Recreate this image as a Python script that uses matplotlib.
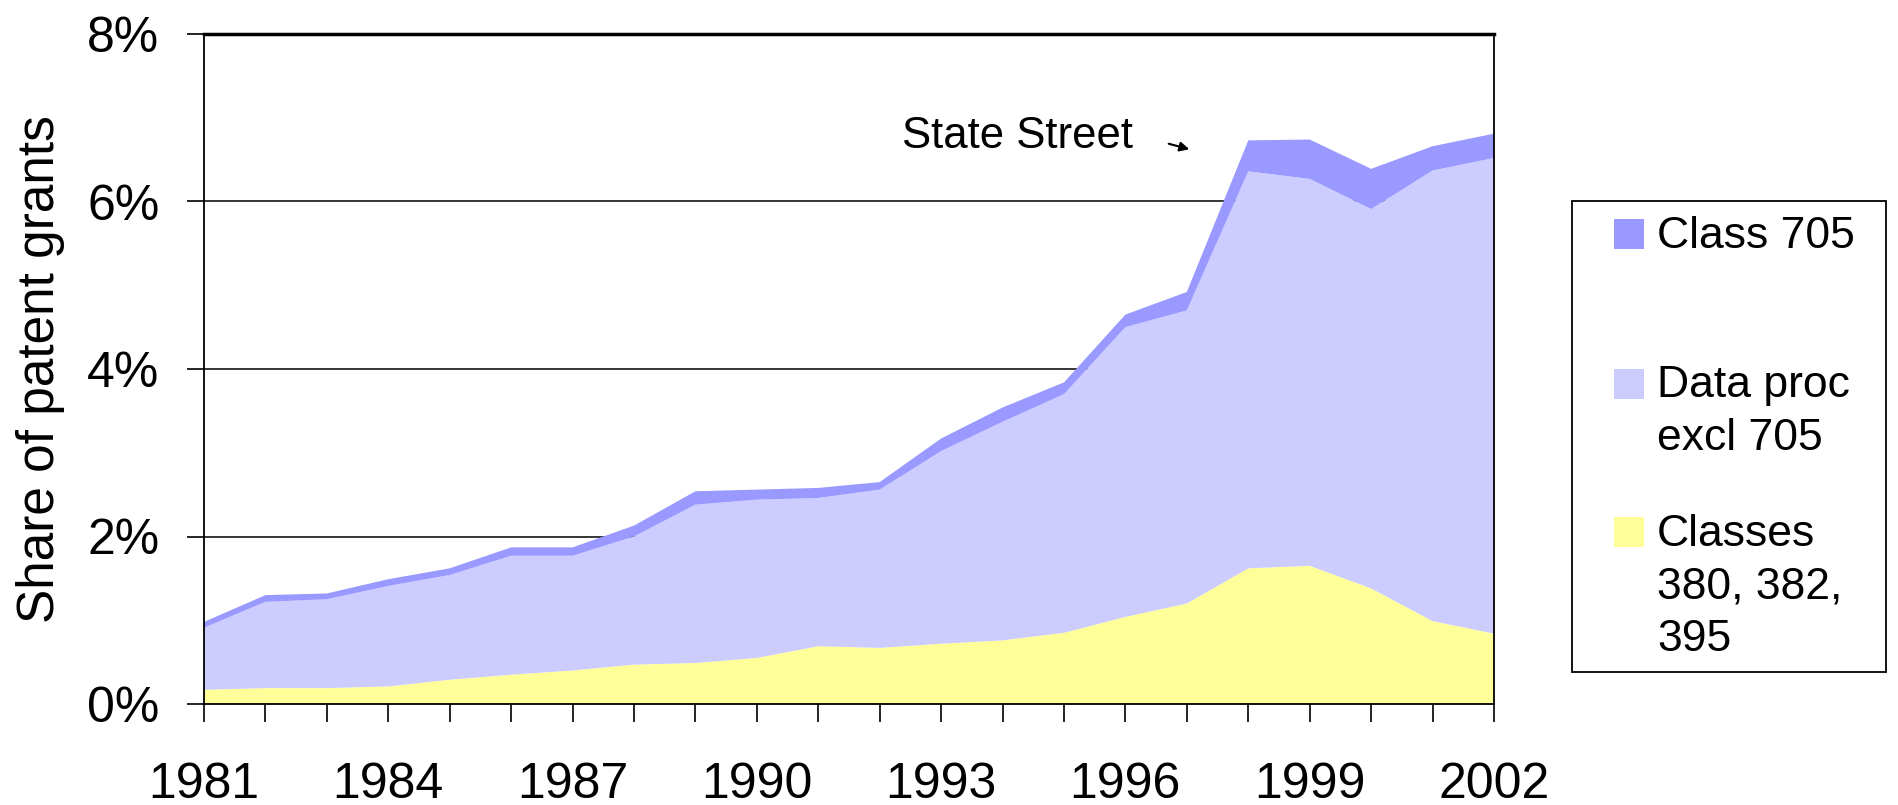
import matplotlib
matplotlib.use("Agg")
import matplotlib.pyplot as plt
from matplotlib.patches import Rectangle
import numpy as np

plt.rcParams['font.family'] = ['Liberation Sans', 'DejaVu Sans']

years = list(range(1981, 2003))
classes_380_382_395 = [0.17, 0.19, 0.19, 0.21, 0.29, 0.35, 0.40, 0.47, 0.49, 0.55, 0.69,
                       0.67, 0.72, 0.76, 0.85, 1.04, 1.20, 1.62, 1.65, 1.38, 0.99, 0.84]
data_proc_total = [0.91, 1.22, 1.25, 1.41, 1.54, 1.77, 1.77, 2.00, 2.38, 2.44, 2.46,
                   2.56, 3.02, 3.37, 3.70, 4.50, 4.70, 6.36, 6.27, 5.91, 6.37, 6.52]
grand_total = [0.98, 1.30, 1.32, 1.49, 1.62, 1.87, 1.87, 2.13, 2.54, 2.56, 2.58,
               2.65, 3.17, 3.54, 3.84, 4.65, 4.92, 6.73, 6.74, 6.39, 6.66, 6.81]
data_proc_excl_705 = [d - c for d, c in zip(data_proc_total, classes_380_382_395)]
class_705 = [g - d for g, d in zip(grand_total, data_proc_total)]

labels = ["Classes\n380, 382,\n395", "Data proc\nexcl 705", "Class 705"]
colors = ["#FFFF99", "#CCCCFF", "#9999FF"]
ytick_vals = [0, 2, 4, 6, 8]
xtick_years = [1981, 1984, 1987, 1990, 1993, 1996, 1999, 2002]

fig = plt.figure(figsize=(18.98, 8.05), dpi=100)
ax = fig.add_axes([204/1898, 1-704/805, (1494-204)/1898, (704-34)/805])

ax.stackplot(years, classes_380_382_395, data_proc_excl_705, class_705,
             colors=colors, linewidth=0, zorder=2)

ax.set_xlim(1981, 2002)
ax.set_ylim(0, 8)
ax.set_yticks(ytick_vals)
ax.set_yticklabels([f"{v}%" for v in ytick_vals])
ax.set_xticks(years)
ax.set_xticklabels([str(y) if y in xtick_years else "" for y in years])
ax.tick_params(axis='both', labelsize=36, width=1.2, color='black', direction='out')
ax.tick_params(axis='x', length=13, pad=29)
ax.tick_params(axis='y', length=12.2, pad=20)
ax.set_ylabel("Share of patent grants", fontsize=37, labelpad=16)

for y in [2, 4, 6]:
    ax.axhline(y, color='black', linewidth=1.1, zorder=1)

for s in ['left', 'right', 'bottom']:
    ax.spines[s].set_linewidth(1.3)
    ax.spines[s].set_color('black')
ax.spines['top'].set_linewidth(2.5)
ax.spines['top'].set_color('black')

# annotation
fig.text(902/1898, 1-137/805, "State Street", fontsize=31.5, va='center', ha='left')
ax.annotate("", xy=(1192/1898, 1-150/805), xytext=(1166/1898, 1-143/805),
            xycoords='figure fraction', textcoords='figure fraction',
            arrowprops=dict(arrowstyle='-|>', color='black', lw=1.5, mutation_scale=14))

# legend drawn manually
fig.patches.append(Rectangle((1572/1898, 1-672/805), (1886-1572)/1898, (672-201)/805,
                             transform=fig.transFigure, facecolor='white',
                             edgecolor='black', linewidth=1.3))
leg_items = [(colors[2], ["Class 705"], 234),
             (colors[1], ["Data proc", "excl 705"], 384),
             (colors[0], ["Classes", "380, 382,", "395"], 532)]
for col, lines, yc in leg_items:
    fig.patches.append(Rectangle((1614/1898, 1-(yc+15)/805), 30/1898, 30/805,
                                 transform=fig.transFigure, facecolor=col, edgecolor='none'))
    for i, line in enumerate(lines):
        fig.text(1657/1898, 1-(yc + 2 + i*52.5)/805, line, fontsize=32, va='center', ha='left')

fig.savefig("out.png", dpi=100)
